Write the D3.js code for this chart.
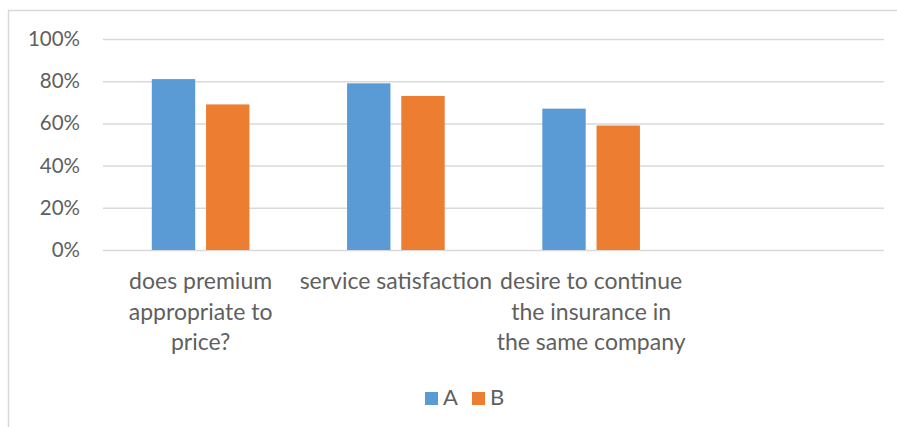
<!DOCTYPE html>
<html>
<head>
<meta charset="utf-8">
<script src="https://cdn.jsdelivr.net/npm/d3@7"></script>
<style>
  html, body { margin: 0; padding: 0; background: #fff; }
  svg { display: block; }
  text { font-family: Lato, "Liberation Sans", Arial, sans-serif; fill: #5f5f5f; }
</style>
</head>
<body>
<svg id="chart" width="897" height="427"></svg>
<script>
// Survey results per question, two groups (A and B)
const categories = [
  "does premium\nappropriate to\nprice?",
  "service satisfaction",
  "desire to continue\nthe insurance in\nthe same company",
  ""
];
const seriesNames = ["A", "B"];
const valuesA = [0.81, 0.79, 0.67, null];
const valuesB = [0.69, 0.73, 0.59, null];
const yTicks = [0, 0.2, 0.4, 0.6, 0.8, 1.0];
const colors = ["#5B9BD5", "#ED7D31"];

const svg = d3.select("#chart");
const plot = { left: 103, right: 884, top: 39, bottom: 250 };

// chart frame (extends past the right and bottom edges)
svg.append("rect")
  .attr("x", 8.5).attr("y", 10.5)
  .attr("width", 920).attr("height", 440)
  .attr("fill", "#fff").attr("stroke", "#d9d9d9").attr("stroke-width", 1.5);

const x = d3.scaleBand()
  .domain(d3.range(categories.length))
  .range([plot.left, plot.right])
  .paddingInner(0.5)
  .paddingOuter(0.25);

const xs = d3.scaleBand()
  .domain(seriesNames)
  .range([0, x.bandwidth()])
  .paddingInner(0.2);

const y = d3.scaleLinear().domain([0, 1]).range([plot.bottom, plot.top]);

// gridlines + y labels via axis
const yAxis = d3.axisLeft(y)
  .tickValues(yTicks)
  .tickFormat(d3.format(".0%"))
  .tickSize(-(plot.right - plot.left))
  .tickPadding(23);

const gy = svg.append("g")
  .attr("transform", `translate(${plot.left},0)`)
  .call(yAxis);
gy.select(".domain").remove();
gy.selectAll(".tick line").attr("stroke", "#d9d9d9").attr("stroke-width", 1.5);
gy.selectAll(".tick text")
  .style("font-size", "20.5px")
  .attr("fill", "#5f5f5f");

// bars
const rows = categories.map((c, i) => ({ i, A: valuesA[i], B: valuesB[i] }));
const groups = svg.append("g").selectAll("g")
  .data(rows)
  .join("g")
  .attr("transform", d => `translate(${x(d.i)},0)`);

groups.selectAll("rect")
  .data(d => seriesNames.map((s, k) => ({ s, k, v: d[s] })).filter(e => e.v != null))
  .join("rect")
  .attr("x", e => xs(e.s))
  .attr("width", xs.bandwidth())
  .attr("y", e => y(e.v))
  .attr("height", e => y(0) - y(e.v))
  .attr("fill", e => colors[e.k]);

// category labels (multi-line)
const xl = svg.append("g");
categories.forEach((c, i) => {
  const t = xl.append("text")
    .attr("text-anchor", "middle")
    .style("font-size", "23px");
  c.split("\n").forEach((line, j) => {
    t.append("tspan")
      .attr("x", x(i) + x.bandwidth() / 2)
      .attr("y", 289 + j * 30.5)
      .text(line);
  });
});

// legend
const legend = svg.append("g");
const legendItems = [
  { name: "A", color: colors[0], x: 425 },
  { name: "B", color: colors[1], x: 472 }
];
legendItems.forEach(d => {
  legend.append("rect")
    .attr("x", d.x).attr("y", 392)
    .attr("width", 13).attr("height", 13)
    .attr("fill", d.color);
  legend.append("text")
    .attr("x", d.x + 18).attr("y", 405)
    .style("font-size", "22px")
    .text(d.name);
});
</script>
</body>
</html>
